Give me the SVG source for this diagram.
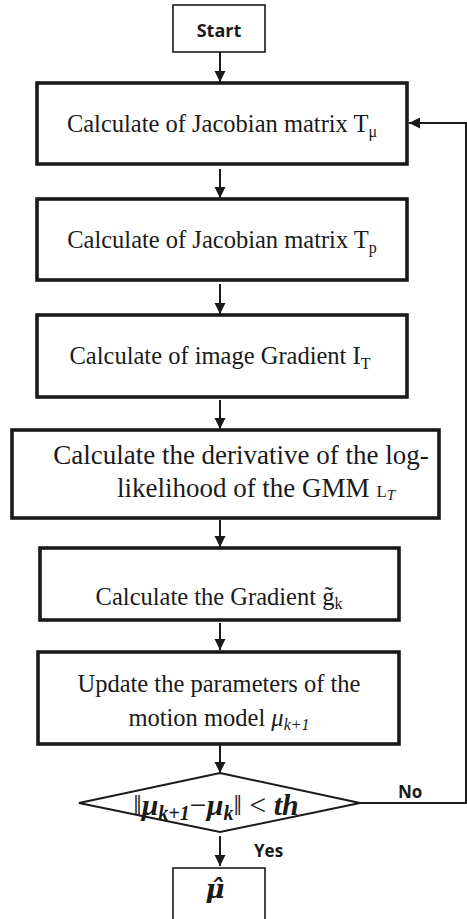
<svg xmlns="http://www.w3.org/2000/svg" width="467" height="919" viewBox="0 0 467 919">
<style>
.thin{fill:#fff;stroke:#1a1a1a;stroke-width:1.6}
.thick{fill:#fff;stroke:#1a1a1a;stroke-width:3.6}
.dia{fill:#fff;stroke:#1a1a1a;stroke-width:2}
.conn{fill:none;stroke:#1a1a1a;stroke-width:2}
.t{font-family:"Liberation Serif","Times New Roman",serif;font-size:24.5px;fill:#1a1a1a;text-anchor:middle}
.sub{font-size:16px}
.b{font-family:"Open Sans","Liberation Sans",sans-serif;font-weight:bold;font-size:17px;fill:#1a1a1a}
.m{font-family:"Liberation Serif","Times New Roman",serif;font-weight:bold;font-style:italic;fill:#1a1a1a}
</style>
<defs>
<marker id="ah" markerWidth="12" markerHeight="12" refX="11" refY="6" orient="auto" markerUnits="userSpaceOnUse">
<path d="M0,0.5 L11,6 L0,11.5 Z" fill="#1a1a1a"/>
</marker>
</defs>
<g id="connectors">
<line class="conn" x1="220" y1="52" x2="220" y2="82" marker-end="url(#ah)"/>
<line class="conn" x1="220" y1="169" x2="220" y2="198" marker-end="url(#ah)"/>
<line class="conn" x1="220" y1="284" x2="220" y2="314" marker-end="url(#ah)"/>
<line class="conn" x1="220" y1="400" x2="220" y2="429" marker-end="url(#ah)"/>
<line class="conn" x1="220" y1="520" x2="220" y2="547" marker-end="url(#ah)"/>
<line class="conn" x1="220" y1="623" x2="220" y2="650" marker-end="url(#ah)"/>
<line class="conn" x1="220" y1="745" x2="220" y2="773" marker-end="url(#ah)"/>
<line class="conn" x1="220" y1="836" x2="220" y2="866" marker-end="url(#ah)"/>
<polyline class="conn" points="360,803 466,803 466,123 409,123" marker-end="url(#ah)"/>
<text class="b" x="398" y="798">No</text>
<text class="b" x="254" y="857">Yes</text>
</g>
<g id="start">
<rect class="thin" x="173" y="5" width="92" height="47"/>
<text class="b" x="219" y="37" text-anchor="middle" style="font-size:18px">Start</text>
</g>
<g id="jacobian-mu">
<rect class="thick" x="37" y="83" width="370" height="81"/>
<text class="t" x="222" y="132">Calculate of Jacobian matrix T<tspan class="sub" dy="5">μ</tspan></text>
</g>
<g id="jacobian-p">
<rect class="thick" x="37" y="199" width="370" height="81"/>
<text class="t" x="222" y="248">Calculate of Jacobian matrix T<tspan class="sub" dy="5">p</tspan></text>
</g>
<g id="image-gradient">
<rect class="thick" x="37" y="315" width="370" height="82"/>
<text class="t" x="220" y="364">Calculate of image Gradient I<tspan class="sub" dy="5">T</tspan></text>
</g>
<g id="derivative">
<rect class="thick" x="12" y="430" width="427" height="88"/>
<text class="t" x="241" y="464" style="font-size:27px">Calculate the derivative of the log-</text>
<text class="t" x="256" y="497" style="font-size:27px">likelihood of the GMM <tspan style="font-size:17px">L</tspan><tspan style="font-size:15px;font-style:italic" dy="3">T</tspan></text>
</g>
<g id="gradient">
<rect class="thick" x="40" y="548" width="359" height="72"/>
<text class="t" x="219" y="605">Calculate the Gradient g̃<tspan class="sub" dy="4">k</tspan></text>
</g>
<g id="update">
<rect class="thick" x="38" y="652" width="361" height="92"/>
<text class="t" x="219" y="692">Update the parameters of the</text>
<text class="t" x="219" y="726">motion model <tspan font-style="italic">μ</tspan><tspan class="sub" font-style="italic" dy="4">k+1</tspan></text>
</g>
<g id="decision">
<polygon class="dia" points="220,773 360,803 220,832 79,803"/>
<text class="m" x="216" y="815" text-anchor="middle" font-size="30"><tspan font-weight="normal" font-style="normal">‖</tspan>μ<tspan font-size="20" dy="5">k+1</tspan><tspan font-weight="normal" font-style="normal" dy="-5">−</tspan>μ<tspan font-size="20" dy="5">k</tspan><tspan font-weight="normal" font-style="normal" dy="-5">‖ &lt; </tspan>th</text>
</g>
<g id="result">
<rect class="thin" x="173" y="868" width="92" height="52"/>
<text x="215" y="898" text-anchor="middle" font-size="26" font-family="'DejaVu Serif',serif" font-weight="bold" font-style="italic" fill="#1a1a1a">μ̂</text>
</g>
</svg>
